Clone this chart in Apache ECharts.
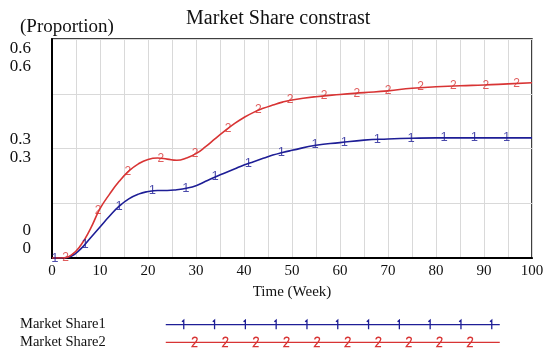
<!DOCTYPE html>
<html>
<head>
<meta charset="utf-8">
<script src="https://cdn.jsdelivr.net/npm/echarts@6/dist/echarts.min.js"></script>
<style>html,body{margin:0;padding:0;background:#fff}#c{width:550px;height:359px}</style>
</head>
<body>
<div id="c"></div>
<script>
// ---- data ----
const weeks  = [0,2,4,6,8,10,12,14,16,18,20,22,24,26,28,30,32,34,36,38,40,42,44,46,48,50,55,60,65,70,75,80,85,90,95,100];
const share1 = [0,0,0.005,0.025,0.055,0.085,0.115,0.142,0.162,0.175,0.182,0.185,0.185,0.187,0.191,0.198,0.21,0.222,0.233,0.244,0.255,0.264,0.273,0.282,0.289,0.295,0.309,0.316,0.323,0.326,0.328,0.329,0.329,0.329,0.329,0.329];
const share2 = [0,0,0.008,0.035,0.08,0.135,0.175,0.21,0.238,0.258,0.27,0.274,0.271,0.268,0.274,0.286,0.305,0.327,0.348,0.368,0.385,0.399,0.41,0.419,0.427,0.433,0.442,0.448,0.453,0.458,0.465,0.469,0.472,0.474,0.477,0.48];
const mark1Weeks = [0.6,6.9,14,20.9,27.9,34,40.9,47.8,54.8,60.9,67.8,74.8,81.7,88,94.7];
const mark1Vals  = [0,0.036,0.142,0.184,0.191,0.223,0.259,0.288,0.31,0.317,0.325,0.328,0.329,0.329,0.329];
const mark2Weeks = [2.85,9.6,15.8,22.7,29.8,36.7,43,49.6,56.7,63.5,70,76.8,83.6,90.4,96.8];
const mark2Vals  = [0,0.13,0.236,0.273,0.285,0.355,0.405,0.433,0.444,0.451,0.458,0.468,0.471,0.473,0.477];
const xTicks = [0,10,20,30,40,50,60,70,80,90,100];
const yTicks = [0,0.3,0.6];
const yTickLabels = ['0','0.3','0.6'];
const seriesNames = ['Market Share1','Market Share2'];
const markText = ['1','2'];

// ---- styles ----
const BLUE = '#1e1e96', RED = '#d83434';
const SERIF = '"Liberation Serif","Times New Roman",serif';
const SANS = '"Liberation Sans",Arial,sans-serif';

// legend icons (line with marker glyphs), drawn 1:1 in a 334x14 box
function bluePath(){
  let p = 'M0,0 M334,14 M0,7 L334,7';
  for (let i=0;i<11;i++){ const x = 18 + i*30.8; p += ` M${x-1.8},4 L${x},2.5 L${x},11.5`; }
  return 'path://' + p;
}
function redPath(){
  let p = 'M0,0 M334,14 M0,7.5 L334,7.5';
  for (let i=0;i<10;i++){
    const c = 29 + i*30.6;
    p += ` M${c-2.4},4.6 C${c-2.4},3 ${c-1.3},2.3 ${c},2.3 C${c+1.5},2.3 ${c+2.4},3.1 ${c+2.4},4.4 C${c+2.4},6.6 ${c-1},8.6 ${c-2.7},11.6 L${c+2.7},11.6`;
  }
  return 'path://' + p;
}

const chart = echarts.init(document.getElementById('c'), null, {renderer:'canvas'});
chart.setOption({
  animation:false,
  backgroundColor:'#fff',
  title:[
    {text:'Market Share constrast', left:186, top:9, padding:0,
     textStyle:{fontFamily:SERIF, fontSize:20, fontWeight:'normal', color:'#111'}},
    {text:'(Proportion)', left:20, top:18, padding:0,
     textStyle:{fontFamily:SERIF, fontSize:19, fontWeight:'normal', color:'#111'}}
  ],
  grid:{left:52, right:18, top:39, bottom:101, show:true, borderColor:'#000', borderWidth:1.5, backgroundColor:'transparent'},
  legend:{
    orient:'vertical', left:20, top:317, align:'right', padding:0,
    itemWidth:334, itemHeight:14, itemGap:2, symbolKeepAspect:false,
    textStyle:{fontFamily:SERIF, fontSize:14.5, color:'#111', padding:[0,55,0,0], lineHeight:14},
    data:[
      {name:seriesNames[0], icon:bluePath(), itemStyle:{color:'rgba(0,0,0,0)', borderColor:BLUE, borderWidth:1.3}},
      {name:seriesNames[1], icon:redPath(), itemStyle:{color:'rgba(0,0,0,0)', borderColor:RED, borderWidth:1.3}}
    ]
  },
  xAxis:{
    type:'value', min:0, max:100, interval:5,
    name:'Time (Week)', nameLocation:'middle', nameGap:27,
    nameTextStyle:{fontFamily:SERIF, fontSize:15, color:'#111'},
    axisLine:{show:true, onZero:false, lineStyle:{color:'#000', width:2}},
    axisTick:{show:false},
    axisLabel:{customValues:xTicks, fontFamily:SERIF, fontSize:15, color:'#111', margin:6},
    splitLine:{show:true, lineStyle:{color:'#d9d9d9', width:1}}
  },
  yAxis:[
    {type:'value', min:0, max:0.6, interval:0.15,
     axisLine:{show:true, onZero:false, lineStyle:{color:'#000', width:2}},
     axisTick:{show:false}, axisLabel:{show:false},
     splitLine:{show:true, lineStyle:{color:'#d9d9d9', width:1}}},
    {type:'value', position:'left', min:-0.0621, max:0.6611,
     axisLine:{show:false}, axisTick:{show:false}, splitLine:{show:false},
     axisLabel:{customValues:yTicks, fontFamily:SERIF, fontSize:17, color:'#111', margin:21, lineHeight:18,
       formatter:function(v){ const i = yTicks.findIndex(t=>Math.abs(t-v)<1e-6); const s = i>=0 ? yTickLabels[i] : ''; return s + '\n' + s; }}}
  ],
  series:[
    {name:seriesNames[0], type:'line', yAxisIndex:0, data:weeks.map((w,i)=>[w,share1[i]]),
     showSymbol:false, symbol:'none', smooth:true,
     lineStyle:{color:BLUE, width:1.6}, itemStyle:{color:BLUE}, z:3},
    {name:seriesNames[1], type:'line', yAxisIndex:0, data:weeks.map((w,i)=>[w,share2[i]]),
     showSymbol:false, symbol:'none', smooth:true,
     lineStyle:{color:RED, width:1.6}, itemStyle:{color:RED}, z:3},
    {type:'scatter', yAxisIndex:0, data:mark1Weeks.map((w,i)=>[w,mark1Vals[i]]),
     symbol:'circle', symbolSize:1, itemStyle:{color:'rgba(0,0,0,0)'}, silent:true, z:4,
     label:{show:true, position:'inside', formatter:markText[0], color:BLUE, fontFamily:SANS, fontSize:13}},
    {type:'scatter', yAxisIndex:0, data:mark2Weeks.map((w,i)=>[w,mark2Vals[i]]),
     symbol:'circle', symbolSize:1, itemStyle:{color:'rgba(0,0,0,0)'}, silent:true, z:4,
     label:{show:true, position:'inside', formatter:markText[1], color:RED, fontFamily:SANS, fontSize:12}}
  ]
});
</script>
</body>
</html>
